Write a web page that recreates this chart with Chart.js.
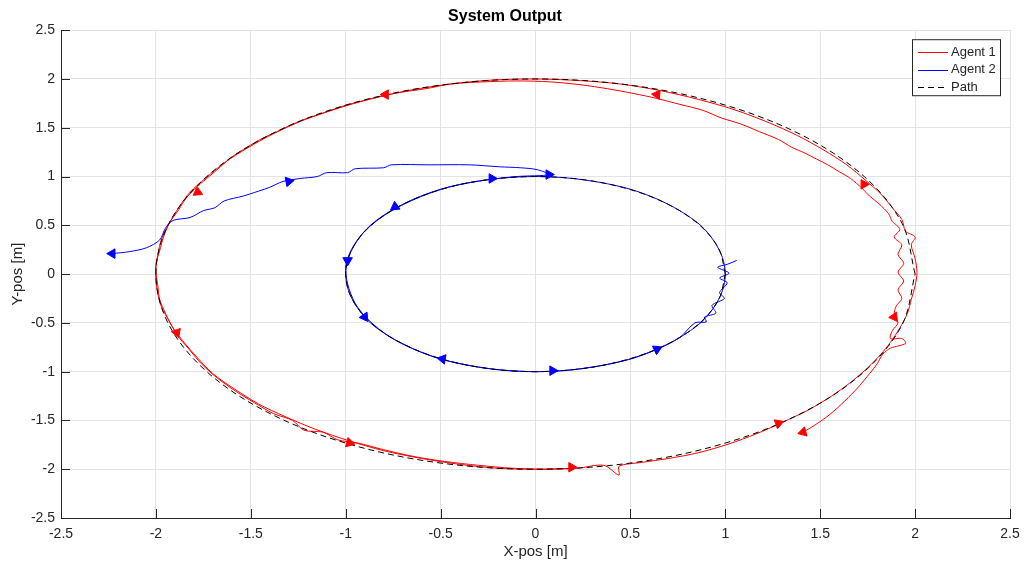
<!DOCTYPE html>
<html>
<head>
<meta charset="utf-8">
<title>System Output</title>
<script src="https://cdn.jsdelivr.net/npm/chart.js@4.4.1/dist/chart.umd.min.js"></script>
<style>
  body { margin: 0; background: #fff; }
  #wrap { width: 1024px; height: 571px; }
</style>
</head>
<body>
<div id="wrap"><canvas id="systemOutput" width="1024" height="571"></canvas></div>
<script>
// tick values for both axes
var xTicks = [-2.5, -2, -1.5, -1, -0.5, 0, 0.5, 1, 1.5, 2, 2.5];
var yTicks = [-2.5, -2, -1.5, -1, -0.5, 0, 0.5, 1, 1.5, 2, 2.5];

// reference path, outer ring (r = 2) and inner ring (r = 1)
var pathOuter = [
    [2, 0], [1.932, 0.518], [1.732, 1], [1.414, 1.414], [1, 1.732], [0.518, 1.932],
    [0, 2], [-0.518, 1.932], [-1, 1.732], [-1.414, 1.414], [-1.732, 1], [-1.932, 0.518],
    [-2, 0], [-1.932, -0.518], [-1.732, -1], [-1.414, -1.414], [-1, -1.732], [-0.518, -1.932],
    [0, -2], [0.518, -1.932], [1, -1.732], [1.414, -1.414], [1.732, -1], [1.932, -0.518], [2, 0]
];
var pathInner = [
    [1, 0], [0.966, 0.259], [0.866, 0.5], [0.707, 0.707], [0.5, 0.866], [0.259, 0.966],
    [0, 1], [-0.259, 0.966], [-0.5, 0.866], [-0.707, 0.707], [-0.866, 0.5], [-0.966, 0.259],
    [-1, 0], [-0.966, -0.259], [-0.866, -0.5], [-0.707, -0.707], [-0.5, -0.866], [-0.259, -0.966],
    [0, -1], [0.259, -0.966], [0.5, -0.866], [0.707, -0.707], [0.866, -0.5], [0.966, -0.259], [1, 0]
];

// agent 1 trajectory (red)
var agent1 = [
    [1.41, -1.62], [1.47, -1.55], [1.55, -1.44], [1.63, -1.30], [1.70, -1.16], [1.76, -1.02],
    [1.80, -0.92], [1.83, -0.82], [1.87, -0.76], [1.95, -0.71], [1.93, -0.66], [1.87, -0.66],
    [1.88, -0.58], [1.91, -0.50], [1.89, -0.42], [1.90, -0.33], [1.93, -0.25], [1.91, -0.16],
    [1.94, -0.07], [1.91, 0.02], [1.94, 0.11], [1.91, 0.20], [1.93, 0.30], [1.89, 0.38],
    [1.92, 0.46], [1.88, 0.54], [1.86, 0.62], [1.81, 0.72], [1.76, 0.80], [1.72, 0.88],
    [1.66, 0.98], [1.60, 1.05], [1.54, 1.12], [1.48, 1.18], [1.42, 1.24], [1.35, 1.30],
    [1.28, 1.38], [1.18, 1.46], [1.08, 1.54], [0.98, 1.60], [0.88, 1.68], [0.76, 1.74],
    [0.64, 1.80], [0.52, 1.85], [0.38, 1.90], [0.24, 1.94], [0.08, 1.97],
    [-0.10, 1.98], [-0.28, 1.97], [-0.44, 1.95], [-0.58, 1.90], [-0.72, 1.86], [-0.86, 1.80],
    [-1.00, 1.73], [-1.12, 1.65], [-1.24, 1.57], [-1.34, 1.48], [-1.44, 1.39], [-1.52, 1.30],
    [-1.60, 1.20], [-1.66, 1.10], [-1.72, 1.00], [-1.78, 0.90], [-1.84, 0.78], [-1.88, 0.66],
    [-1.93, 0.52], [-1.96, 0.38], [-1.98, 0.24], [-2.0, 0.10], [-2.0, -0.06], [-1.99, -0.20],
    [-1.97, -0.34], [-1.93, -0.48], [-1.89, -0.62], [-1.83, -0.76], [-1.76, -0.92], [-1.68, -1.06],
    [-1.58, -1.20], [-1.48, -1.32], [-1.38, -1.43], [-1.28, -1.50], [-1.22, -1.60], [-1.12, -1.62],
    [-1.04, -1.70], [-0.94, -1.73], [-0.80, -1.80], [-0.64, -1.87], [-0.48, -1.92], [-0.30, -1.96],
    [-0.12, -1.99], [0.06, -2.0], [0.22, -1.99], [0.36, -1.96], [0.44, -2.06], [0.44, -1.97],
    [0.56, -1.93], [0.70, -1.89], [0.86, -1.83], [1.02, -1.74], [1.16, -1.64], [1.30, -1.52],
    [1.44, -1.39], [1.56, -1.25], [1.66, -1.11], [1.75, -0.96], [1.82, -0.82], [1.87, -0.70],
    [1.92, -0.55], [1.96, -0.40], [1.98, -0.26], [2.0, -0.12], [2.01, 0.02], [2.0, 0.16],
    [1.98, 0.30], [2.0, 0.38], [1.95, 0.44], [1.93, 0.56], [1.88, 0.68], [1.82, 0.82],
    [1.74, 0.96], [1.64, 1.12], [1.52, 1.27], [1.38, 1.42], [1.22, 1.56], [1.04, 1.69],
    [0.86, 1.79], [0.66, 1.88], [0.44, 1.95], [0.22, 1.985], [0, 2.0], [-0.22, 1.99],
    [-0.44, 1.95], [-0.66, 1.885], [-0.86, 1.80], [-1.04, 1.70], [-1.22, 1.58], [-1.38, 1.44],
    [-1.52, 1.29], [-1.64, 1.14], [-1.74, 0.98], [-1.82, 0.84], [-1.88, 0.68], [-1.93, 0.52],
    [-1.97, 0.36], [-1.99, 0.20], [-2.0, 0.04], [-1.99, -0.12], [-1.98, -0.26], [-1.95, -0.40],
    [-1.92, -0.52], [-1.86, -0.68], [-1.78, -0.86], [-1.70, -1.02], [-1.60, -1.16], [-1.46, -1.33],
    [-1.32, -1.46], [-1.16, -1.59], [-0.98, -1.71], [-0.80, -1.81], [-0.60, -1.89], [-0.40, -1.95],
    [-0.20, -1.99], [0.0, -2.0], [0.20, -1.99]
];

// agent 2 trajectory (blue)
var agent2 = [
    [-2.23, 0.21], [-2.14, 0.23], [-2.05, 0.27], [-1.98, 0.35], [-1.95, 0.47], [-1.91, 0.55],
    [-1.82, 0.58], [-1.75, 0.65], [-1.69, 0.68], [-1.64, 0.75], [-1.54, 0.80], [-1.46, 0.85],
    [-1.40, 0.89], [-1.33, 0.95], [-1.24, 0.98], [-1.15, 1.00], [-1.10, 1.04], [-0.99, 1.04],
    [-0.95, 1.08], [-0.80, 1.09], [-0.76, 1.12], [-0.56, 1.12], [-0.35, 1.12], [-0.19, 1.10],
    [-0.08, 1.09], [0.01, 1.07], [0.07, 1.02],
    [-0.10, 1.0], [-0.26, 0.965], [-0.42, 0.91], [-0.57, 0.82], [-0.71, 0.70], [-0.82, 0.57],
    [-0.91, 0.42], [-0.97, 0.25], [-1.0, 0.08], [-0.99, -0.10], [-0.95, -0.30], [-0.88, -0.47],
    [-0.77, -0.64], [-0.64, -0.77], [-0.5, -0.87], [-0.34, -0.94], [-0.17, -0.985], [0, -1],
    [0.17, -0.985], [0.34, -0.94], [0.5, -0.87], [0.64, -0.77], [0.76, -0.65], [0.87, -0.5],
    [0.94, -0.34], [0.985, -0.17], [1.0, 0], [0.985, 0.17], [0.94, 0.34], [0.87, 0.5],
    [0.76, 0.65], [0.64, 0.77], [0.5, 0.87], [0.34, 0.94], [0.17, 0.985], [0, 1],
    [-0.17, 0.985], [-0.34, 0.94], [-0.5, 0.87], [-0.64, 0.77], [-0.77, 0.64], [-0.87, 0.5],
    [-0.94, 0.34], [-0.985, 0.17], [-1, 0], [-0.985, -0.17], [-0.94, -0.34], [-0.87, -0.5],
    [-0.77, -0.64], [-0.64, -0.77], [-0.5, -0.87], [-0.34, -0.94], [-0.17, -0.985], [0, -1],
    [0.17, -0.985], [0.34, -0.94], [0.5, -0.87], [0.64, -0.77], [0.76, -0.65], [0.84, -0.5],
    [0.90, -0.49], [0.89, -0.44], [0.95, -0.40], [0.93, -0.32], [0.995, -0.25], [0.97, -0.19],
    [1.01, -0.09], [0.97, -0.04], [1.02, 0.01], [0.96, 0.07], [1.01, 0.10], [1.06, 0.14]
];

// heading markers: x, y, heading in degrees (0 = up, clockwise)
var agent1Arrows = [
    [1.41, -1.62, 255], [1.28, -1.53, 70], [0.19, -1.98, 90], [-0.98, -1.73, 105],
    [-1.89, -0.60, 160], [-1.78, 0.84, 235], [-0.79, 1.84, 270], [0.64, 1.84, 275],
    [1.73, 0.92, 330], [1.89, -0.44, 265]
];
var agent2Arrows = [
    [-2.23, 0.21, 270], [-1.30, 0.95, 80], [-0.23, 0.98, 90], [0.07, 1.02, 90],
    [-0.74, 0.69, 235], [-0.99, 0.14, 180], [-0.90, -0.44, 145], [-0.49, -0.87, 280],
    [0.09, -0.99, 90], [0.64, -0.77, 65]
];

function toXY(list) {
    return list.map(function (p) { return { x: p[0], y: p[1] }; });
}

var axisColor = '#262626';
var gridColor = '#e3e3e3';

// MATLAB style inward tick marks on the bottom and left axes
var innerTicks = {
    id: 'innerTicks',
    afterDatasetsDraw: function (chart) {
        var ctx = chart.ctx;
        var area = chart.chartArea;
        var xs = chart.scales.x, ys = chart.scales.y;
        ctx.save();
        ctx.strokeStyle = axisColor;
        ctx.lineWidth = 1;
        ctx.beginPath();
        xTicks.forEach(function (v) {
            var px = Math.round(xs.getPixelForValue(v)) + 0.5;
            ctx.moveTo(px, area.bottom);
            ctx.lineTo(px, area.bottom - 9);
        });
        yTicks.forEach(function (v) {
            var py = Math.round(ys.getPixelForValue(v)) + 0.5;
            ctx.moveTo(area.left, py);
            ctx.lineTo(area.left + 9, py);
        });
        ctx.stroke();
        ctx.restore();
    }
};

// boxed legend in the upper right corner
var boxLegend = {
    id: 'boxLegend',
    afterDraw: function (chart) {
        var ctx = chart.ctx;
        var area = chart.chartArea;
        var items = chart.data.datasets.filter(function (d) { return d.inLegend; });
        var w = 88, h = 56;
        var x = area.right - 10 - w, y = area.top + 9;
        ctx.save();
        ctx.fillStyle = '#fff';
        ctx.fillRect(x, y, w, h);
        ctx.strokeStyle = axisColor;
        ctx.lineWidth = 1;
        ctx.strokeRect(x + 0.5, y + 0.5, w, h);
        ctx.font = '13px "Liberation Sans", Arial, sans-serif';
        ctx.textBaseline = 'middle';
        items.forEach(function (d, i) {
            var cy = y + 13 + i * 17.5;
            ctx.strokeStyle = d.borderColor;
            ctx.setLineDash(d.borderDash || []);
            ctx.beginPath();
            ctx.moveTo(x + 6, Math.round(cy) + 0.5);
            ctx.lineTo(x + 36, Math.round(cy) + 0.5);
            ctx.stroke();
            ctx.setLineDash([]);
            ctx.fillStyle = axisColor;
            ctx.fillText(d.label, x + 39, cy);
        });
        ctx.restore();
    }
};

var ctx = document.getElementById('systemOutput');

var chart = new Chart(ctx, {
    type: 'scatter',
    data: {
        datasets: [
            {
                label: 'Agent 1', inLegend: true, order: 3,
                data: toXY(agent1), showLine: true, tension: 0.3,
                borderColor: '#ff0000', borderWidth: 1, pointRadius: 0
            },
            {
                label: 'Agent 2', inLegend: true, order: 2,
                data: toXY(agent2), showLine: true, tension: 0.3,
                borderColor: '#0000ff', borderWidth: 1, pointRadius: 0
            },
            {
                label: 'Path', inLegend: true, order: 1,
                data: toXY(pathOuter), showLine: true, tension: 0.34,
                borderColor: '#000000', borderWidth: 1, borderDash: [6, 4], pointRadius: 0
            },
            {
                label: 'Path (inner)', order: 1,
                data: toXY(pathInner), showLine: true, tension: 0.34,
                borderColor: '#000000', borderWidth: 1, borderDash: [6, 4], pointRadius: 0
            },
            {
                label: 'Agent 1 heading', order: 0,
                data: agent1Arrows.map(function (a) { return { x: a[0], y: a[1] }; }),
                pointStyle: 'triangle', pointRadius: 5.5,
                pointRotation: agent1Arrows.map(function (a) { return a[2]; }),
                backgroundColor: '#ff0000', borderColor: '#ff0000', borderWidth: 1
            },
            {
                label: 'Agent 2 heading', order: 0,
                data: agent2Arrows.map(function (a) { return { x: a[0], y: a[1] }; }),
                pointStyle: 'triangle', pointRadius: 5.5,
                pointRotation: agent2Arrows.map(function (a) { return a[2]; }),
                backgroundColor: '#0000ff', borderColor: '#0000ff', borderWidth: 1
            }
        ]
    },
    options: {
        responsive: false,
        animation: false,
        devicePixelRatio: 1,
        layout: { padding: { top: 0, right: 14, bottom: 0, left: 0 } },
        plugins: {
            legend: { display: false },
            tooltip: { enabled: false },
            title: {
                display: true,
                text: 'System Output',
                color: '#000',
                font: { family: '"Liberation Sans", Arial, sans-serif', size: 16, weight: 'bold' },
                padding: { top: 7, bottom: 4 }
            }
        },
        scales: {
            x: {
                type: 'linear', min: -2.5, max: 2.5,
                afterBuildTicks: function (s) { s.ticks = xTicks.map(function (v) { return { value: v }; }); },
                afterFit: function (s) { s.height = 53; s.paddingLeft = 0; s.paddingRight = 0; },
                ticks: {
                    color: axisColor, padding: 8, maxRotation: 0,
                    font: { family: '"Liberation Sans", Arial, sans-serif', size: 14 },
                    callback: function (v) { return String(v); }
                },
                grid: { color: gridColor, drawTicks: false },
                border: { color: axisColor, width: 1 },
                title: {
                    display: true, text: 'X-pos [m]', color: axisColor,
                    font: { family: '"Liberation Sans", Arial, sans-serif', size: 15 },
                    padding: { top: 0, bottom: 10 }
                }
            },
            y: {
                type: 'linear', min: -2.5, max: 2.5,
                afterBuildTicks: function (s) { s.ticks = yTicks.map(function (v) { return { value: v }; }); },
                afterFit: function (s) { s.width = 61; s.paddingTop = 0; s.paddingBottom = 0; },
                ticks: {
                    color: axisColor, padding: 6,
                    font: { family: '"Liberation Sans", Arial, sans-serif', size: 14 },
                    callback: function (v) { return String(v); }
                },
                grid: { color: gridColor, drawTicks: false },
                border: { color: axisColor, width: 1 },
                title: {
                    display: true, text: 'Y-pos [m]', color: axisColor,
                    font: { family: '"Liberation Sans", Arial, sans-serif', size: 15 },
                    padding: { top: 9, bottom: 0 }
                }
            }
        }
    },
    plugins: [innerTicks, boxLegend]
});
</script>
</body>
</html>
